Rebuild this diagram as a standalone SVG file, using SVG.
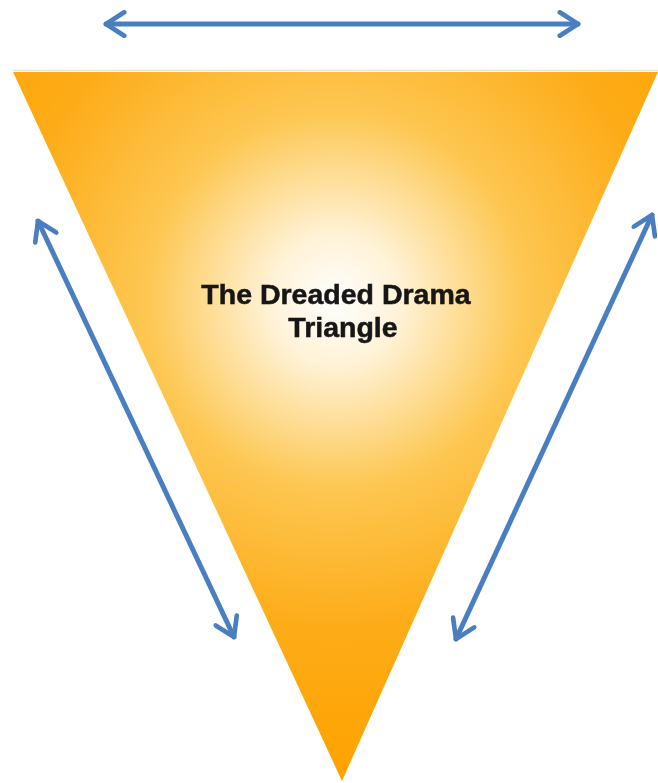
<svg xmlns="http://www.w3.org/2000/svg" width="658" height="783" viewBox="0 0 658 783">
  <style>
    .conn { stroke: #4a7fc1; stroke-width: 5; fill: none; stroke-linecap: round; }
    .label { font-family: "Liberation Sans", Arial, sans-serif; font-weight: bold; font-size: 28.5px; fill: #151515; text-anchor: middle; stroke: #151515; stroke-width: 0.5; }
  </style>
  <defs>
    <radialGradient id="glow" gradientUnits="userSpaceOnUse" cx="335" cy="300" r="470">
      <stop offset="0" stop-color="#ffffff"/>
      <stop offset="0.14" stop-color="#fff2d6"/>
      <stop offset="0.4" stop-color="#fdc752"/>
      <stop offset="0.7" stop-color="#fdac18"/>
      <stop offset="1" stop-color="#ffa300"/>
    </radialGradient>
    <marker id="head" viewBox="0 0 12 12" refX="10" refY="6" markerWidth="5.6" markerHeight="5.6" orient="auto-start-reverse" markerUnits="strokeWidth">
      <path d="M2.2,1 L10,6 L2.2,11" fill="none" stroke="#4a7fc1" stroke-width="2" stroke-linecap="round" stroke-linejoin="round"/>
    </marker>
    <filter id="soft" x="-5%" y="-5%" width="110%" height="110%">
      <feGaussianBlur stdDeviation="0.7"/>
    </filter>
  </defs>

  <rect width="658" height="783" fill="#ffffff"/>

  <g id="triangle">
    <line x1="13" y1="70.5" x2="658" y2="70.5" stroke="#e6e2dc" stroke-width="1.5"/>
    <polygon points="13,72 658,72 342,781" fill="url(#glow)"/>
    <g filter="url(#soft)">
      <text class="label" x="336" y="304">The Dreaded Drama</text>
      <text class="label" x="343" y="337">Triangle</text>
    </g>
  </g>

  <g id="connectors" filter="url(#soft)">
    <line class="conn" x1="106" y1="24" x2="578" y2="24" marker-start="url(#head)" marker-end="url(#head)"/>
    <line class="conn" x1="38" y1="221" x2="234" y2="637" marker-start="url(#head)" marker-end="url(#head)"/>
    <line class="conn" x1="652" y1="215" x2="456" y2="639" marker-start="url(#head)" marker-end="url(#head)"/>
  </g>
</svg>
